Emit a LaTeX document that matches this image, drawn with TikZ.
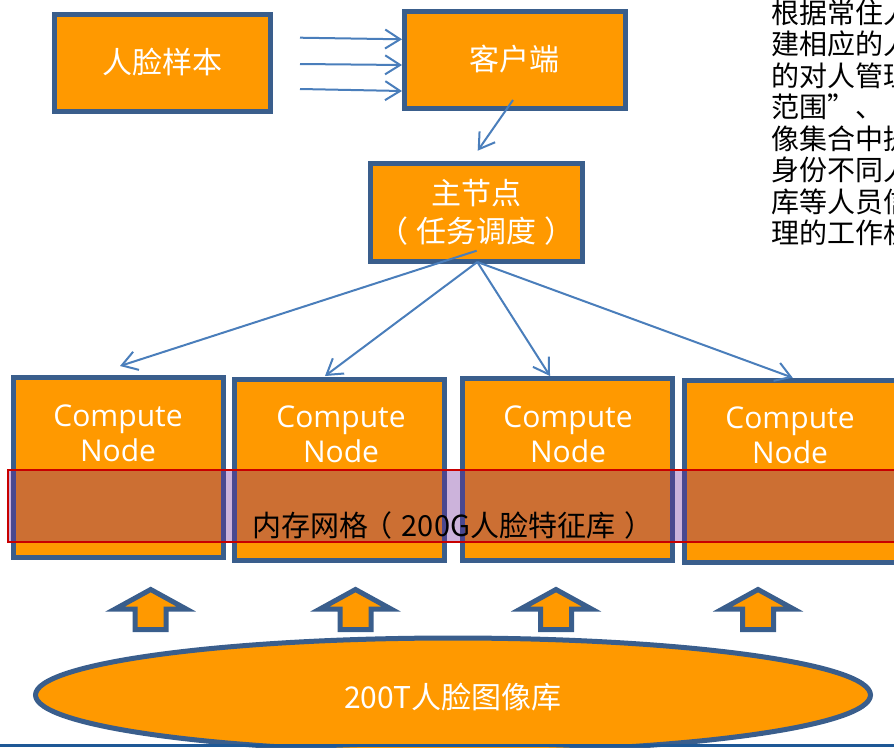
\documentclass[tikz,border=0pt]{standalone}
\usepackage{fontspec}
\setmainfont{Noto Sans CJK SC}
\newfontfamily\latinfont{Open Sans}
\usetikzlibrary{arrows.meta,shapes.geometric}
\definecolor{org}{RGB}{255,153,0}
\definecolor{bdr}{RGB}{58,94,140}
\definecolor{lnk}{RGB}{74,126,187}
\definecolor{bandc}{RGB}{106,32,150}
\definecolor{bandr}{RGB}{200,0,0}
\definecolor{slide}{RGB}{30,88,150}
\begin{document}
\begin{tikzpicture}[x=1pt,y=-1pt,
  box/.style={draw=bdr,fill=org,line width=5pt,inner sep=0pt,text=white,
    font=\fontsize{30}{38}\selectfont,align=center},
  cbox/.style={draw=bdr,fill=org,line width=5pt,inner sep=0pt},
  ctext/.style={text=white,inner sep=0pt,align=center,
    font=\latinfont\fontsize{30}{35}\selectfont},
  conn/.style={draw=lnk,line width=2pt,-{Straight Barb[length=15pt,width=19pt]}},
  upar/.style={draw=bdr,fill=org,line width=5pt,line join=miter},
  rtext/.style={anchor=west,inner sep=0pt,text=black,font=\fontsize{28}{31}\selectfont},
  band/.style={draw=bandr,line width=2pt,fill=bandc,fill opacity=0.34}]
\clip (0,0) rectangle (894,747);

% top boxes
\node[box,minimum width=215.5pt,minimum height=97pt] (sample) at (162.25,62.5) {人脸样本};
\node[box,minimum width=221pt,minimum height=97pt] (client) at (514.5,59.5) {客户端};
\node[box,minimum width=212pt,minimum height=98pt] (master) at (476.5,212.3) {主节点\\（\hspace{8pt}任务调度\hspace{8pt}）};

% compute nodes
\node[cbox,minimum width=210.3pt,minimum height=179.7pt] (c1) at (118.4,467.7) {};
\node[cbox,minimum width=209.7pt,minimum height=181.3pt] (c2) at (339.7,469.9) {};
\node[cbox,minimum width=210pt,minimum height=181.5pt] (c3) at (567.5,469.3) {};
\node[cbox,minimum width=212pt,minimum height=182.3pt] (c4) at (790.5,471.35) {};
\node[ctext] (c1t) at (118,433.4) {Compute\\Node};
\node[ctext] (c2t) at (341,434.4) {Compute\\Node};
\node[ctext] (c3t) at (568,434.4) {Compute\\Node};
\node[ctext] (c4t) at (790,435.4) {Compute\\Node};

% memory grid band
\node[band,minimum width=892pt,minimum height=72pt,inner sep=0pt] (grid) at (454,506) {};
\node[inner sep=0pt,text=black,font=\fontsize{29}{34}\selectfont] (gridt) at (453,525) {内存网格\hspace{-5pt}（\hspace{9pt}200G人脸特征库\hspace{9pt}）};

% connectors sample -> client
\coordinate (s1) at (300,37.7); \coordinate (k1) at (402,39.3);
\coordinate (s2) at (300,64);   \coordinate (k2) at (402,65);
\coordinate (s3) at (300,89);   \coordinate (k3) at (402,91);
\draw[conn] (s1) -- (k1);
\draw[conn] (s2) -- (k2);
\draw[conn] (s3) -- (k3);

% client -> master
\coordinate (cA) at (513,100);
\coordinate (mT) at (477.7,150.7);
\draw[conn] (cA) -- (mT);

% master -> compute
\coordinate (mA) at (476.7,250.7);
\coordinate (mB) at (477.3,262);
\coordinate (t1) at (120,366);
\coordinate (t2) at (325,376);
\coordinate (t3) at (550,376);
\coordinate (t4) at (792.7,377.7);
\draw[conn] (mA) -- (t1);
\draw[conn] (mB) -- (t2);
\draw[conn] (mB) -- (t3);
\draw[conn] (mB) -- (t4);

% up arrows
\foreach \cx in {150.7,355.5,556,758}{
  \draw[upar] (\cx,589.5) -- ++(35.5,19.5) -- ++(-20,0) -- ++(0,20.5)
    -- ++(-31,0) -- ++(0,-20.5) -- ++(-20,0) -- cycle;
}

% image library
\node[ellipse,draw=bdr,fill=org,line width=5pt,minimum width=835pt,minimum height=114pt,
  inner sep=0pt] (lib) at (453,695) {};
\node[inner sep=0pt,text=white,font=\fontsize{30}{36}\selectfont] (libt) at (453,697) {200T人脸图像库};

% slide line
\draw[slide,line width=3pt] (0,745.5) -- (894,745.5);

% right text (cut by the picture's right edge, as in the reference)
\node[rtext] (r1) at (771.7,12.5) {根据常住人};
\node[rtext] (r2) at (771.7,44) {建相应的人};
\node[rtext] (r3) at (771.7,75.5) {的对人管理};
\node[rtext] (r4) at (771.7,107) {范围”、};
\node[rtext] (r5) at (771.7,138.5) {像集合中提};
\node[rtext] (r6) at (771.7,170) {身份不同人};
\node[rtext] (r7) at (771.7,201.5) {库等人员信};
\node[rtext] (r8) at (771.7,233) {理的工作机};
\end{tikzpicture}
\end{document}
